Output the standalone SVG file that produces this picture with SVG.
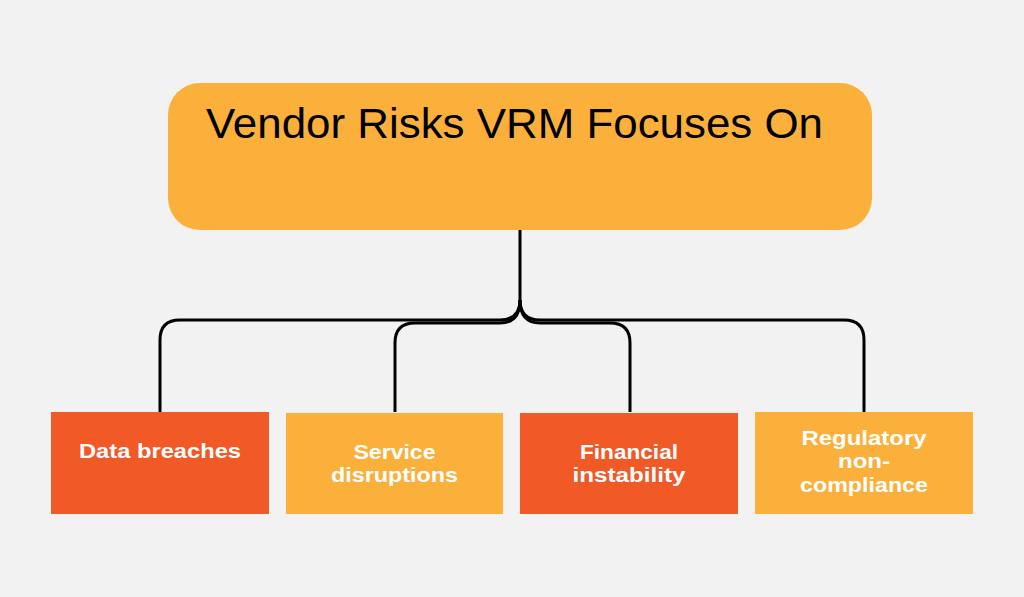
<svg xmlns="http://www.w3.org/2000/svg" width="1024" height="597" viewBox="0 0 1024 597">
<style>
.bg{fill:#F2F2F2}
.amber{fill:#FBB03B}
.red{fill:#F15A27}
.conn{fill:none;stroke:#000;stroke-width:3;stroke-linecap:butt}
.title{font-family:"Liberation Sans",Arial,sans-serif;font-size:42px;fill:#000}
.lbl{font-family:"Liberation Sans",Arial,sans-serif;font-weight:bold;font-size:21px;fill:#fff;text-anchor:middle}
</style>
<rect class="bg" x="0" y="0" width="1024" height="597"/>
<g id="connectors">
<path class="conn" d="M520,230 V300 Q520,320 500,320 H180 Q160,320 160,340 V412"/>
<path class="conn" d="M520,300 Q520,320 540,320 H844 Q864,320 864,340 V412"/>
<path class="conn" d="M520,300 Q520,323 500,323 H415 Q395,323 395,343 V412"/>
<path class="conn" d="M520,300 Q520,323 540,323 H610 Q630,323 630,343 V412"/>
</g>
<g id="root">
<rect class="amber" x="168" y="83" width="704" height="147" rx="32" ry="32"/>
<text class="title" x="206" y="138" textLength="617" lengthAdjust="spacingAndGlyphs">Vendor Risks VRM Focuses On</text>
</g>
<g id="data-breaches">
<rect class="red" x="51" y="412" width="218" height="102"/>
<text class="lbl" x="160" y="458" textLength="162" lengthAdjust="spacingAndGlyphs">Data breaches</text>
</g>
<g id="service-disruptions">
<rect class="amber" x="286" y="413" width="217" height="101"/>
<text class="lbl" x="394.5" y="459" textLength="82" lengthAdjust="spacingAndGlyphs">Service</text>
<text class="lbl" x="394.5" y="482" textLength="127" lengthAdjust="spacingAndGlyphs">disruptions</text>
</g>
<g id="financial-instability">
<rect class="red" x="520" y="413" width="218" height="101"/>
<text class="lbl" x="629" y="459" textLength="98" lengthAdjust="spacingAndGlyphs">Financial</text>
<text class="lbl" x="629" y="482" textLength="113" lengthAdjust="spacingAndGlyphs">instability</text>
</g>
<g id="regulatory-non-compliance">
<rect class="amber" x="755" y="412" width="218" height="102"/>
<text class="lbl" x="864" y="445" textLength="125" lengthAdjust="spacingAndGlyphs">Regulatory</text>
<text class="lbl" x="864" y="468" textLength="52" lengthAdjust="spacingAndGlyphs">non-</text>
<text class="lbl" x="864" y="492" textLength="128" lengthAdjust="spacingAndGlyphs">compliance</text>
</g>
</svg>
